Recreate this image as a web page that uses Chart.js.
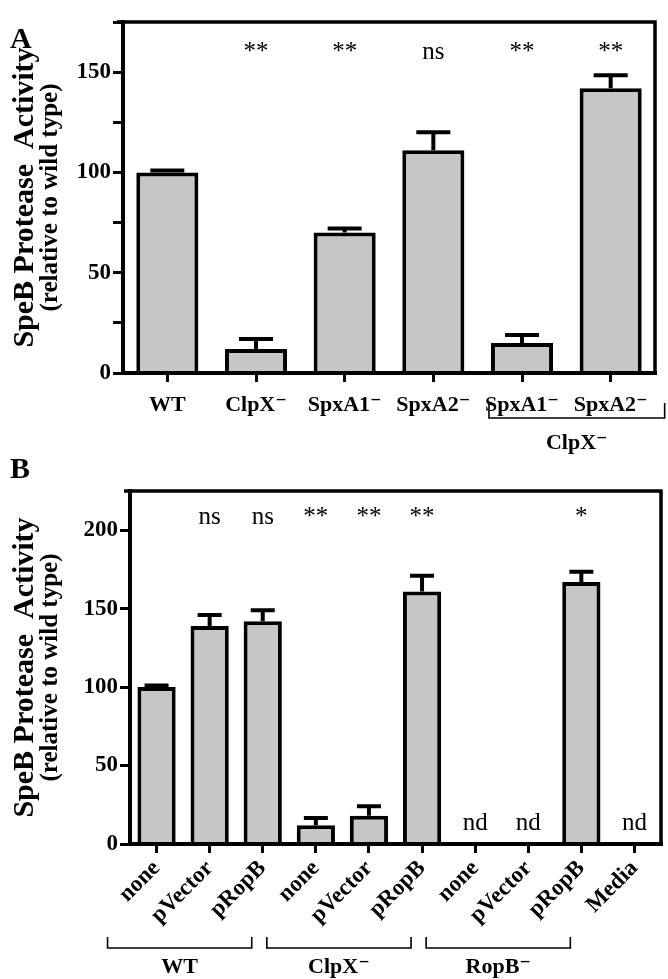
<!DOCTYPE html>
<html><head><meta charset="utf-8">
<script src="https://cdn.jsdelivr.net/npm/chart.js@4.4.0/dist/chart.umd.min.js"></script>
<style>
html,body{margin:0;padding:0;background:#fff;}
#wrap{position:relative;width:668px;height:979px;overflow:hidden;background:#fff;}
.box{position:absolute;left:0;}
</style></head><body>
<div id="wrap">
<div class="box" style="top:0;width:668px;height:460px"><canvas id="ca" width="668" height="460"></canvas></div>
<div class="box" style="top:455px;width:668px;height:524px"><canvas id="cb" width="668" height="524"></canvas></div>
</div>
<script>
// ---------- Panel A data ----------
const strainsA = ['WT', 'ClpX\u207B', 'SpxA1\u207B', 'SpxA2\u207B', 'SpxA1\u207B', 'SpxA2\u207B'];
const activityA = [100, 12, 70, 111, 15, 142];
const errorA = [1, 5, 2, 9, 4, 6.5];
const signifA = ['', '**', '**', 'ns', '**', '**'];
const groupsA = [{ label: 'ClpX\u207B', from: 4, to: 5 }];
const yTicksA = [0, 25, 50, 75, 100, 125, 150, 175];

// ---------- Panel B data ----------
const plasmidsB = ['none', 'pVector', 'pRopB', 'none', 'pVector', 'pRopB', 'none', 'pVector', 'pRopB', 'Media'];
const activityB = [100, 139, 142, 12, 18, 161, 1, 1, 167, 1];
const errorB = [1, 7, 7, 4.5, 6, 10, 0, 0, 6.5, 0];
const signifB = ['', 'ns', 'ns', '**', '**', '**', '', '', '*', ''];
const notDetectedB = ['', '', '', '', '', '', 'nd', 'nd', '', 'nd'];
const groupsB = [{ label: 'WT', from: 0, to: 2 }, { label: 'ClpX\u207B', from: 3, to: 5 }, { label: 'RopB\u207B', from: 6, to: 8 }];
const yTicksB = [0, 50, 100, 150, 200];

const yTitle1 = 'SpeB Protease  Activity';
const yTitle2 = '(relative to wild type)';

const SERIF = "'Liberation Serif', 'Times New Roman', 'DejaVu Serif', serif";
const FILL = '#c6c6c6';
const INK = '#000';

function makePlugin(cfg) {
  return {
    id: 'decor' + cfg.letter,
    afterDatasetsDraw(chart) {
      const ctx = chart.ctx;
      const a = chart.chartArea;
      const xs = chart.scales.x, ys = chart.scales.y;
      ctx.save();
      ctx.strokeStyle = INK; ctx.fillStyle = INK;
      // error bars
      ctx.lineWidth = 4;
      cfg.values.forEach((v, i) => {
        const e = cfg.errors[i];
        if (!e) return;
        const x = xs.getPixelForValue(i);
        const y0 = ys.getPixelForValue(v);
        const y1 = ys.getPixelForValue(v + e);
        ctx.beginPath();
        ctx.moveTo(x, y0); ctx.lineTo(x, y1);
        ctx.moveTo(x - cfg.capW / 2, y1); ctx.lineTo(x + cfg.capW / 2, y1);
        ctx.stroke();
      });
      // frame
      ctx.lineWidth = 3.5;
      ctx.beginPath();
      ctx.moveTo(a.left - 6, a.top); ctx.lineTo(a.right, a.top); ctx.lineTo(a.right, a.bottom);
      ctx.stroke();
      ctx.lineWidth = 4;
      ctx.beginPath();
      ctx.moveTo(a.left, a.top - 2); ctx.lineTo(a.left, a.bottom); ctx.lineTo(a.right + 2, a.bottom);
      ctx.stroke();
      // significance labels
      ctx.font = '25px ' + SERIF;
      ctx.textAlign = 'center'; ctx.textBaseline = 'middle';
      cfg.signif.forEach((s, i) => {
        if (!s) return;
        ctx.fillText(s, xs.getPixelForValue(i), ys.getPixelForValue(cfg.signifAt));
      });
      if (cfg.nd) cfg.nd.forEach((s, i) => {
        if (!s) return;
        ctx.fillText(s, xs.getPixelForValue(i), ys.getPixelForValue(cfg.ndAt));
      });
      // y title
      ctx.save();
      ctx.translate(cfg.t1x, (a.top + a.bottom) / 2 + cfg.tShift);
      ctx.rotate(-Math.PI / 2);
      ctx.font = 'bold 30px ' + SERIF;
      ctx.fillText(yTitle1, 0, 0);
      ctx.font = 'bold 25px ' + SERIF;
      ctx.fillText(yTitle2, 0, cfg.t2x - cfg.t1x);
      ctx.restore();
      // panel letter
      ctx.font = 'bold 30px ' + SERIF;
      ctx.textAlign = 'left'; ctx.textBaseline = 'alphabetic';
      ctx.fillText(cfg.letter, cfg.letterX, cfg.letterY);
      // group brackets
      ctx.lineWidth = 1.6;
      ctx.textAlign = 'center'; ctx.textBaseline = 'middle';
      ctx.font = 'bold 22px ' + SERIF;
      cfg.groups.forEach(g => {
        const x0 = xs.getPixelForValue(g.from) + cfg.brL;
        const x1 = xs.getPixelForValue(g.to) + cfg.brR;
        ctx.beginPath();
        ctx.moveTo(x0, cfg.brTop); ctx.lineTo(x0, cfg.brY); ctx.lineTo(x1, cfg.brY); ctx.lineTo(x1, cfg.brTop);
        ctx.stroke();
        ctx.fillText(g.label, (x0 + x1) / 2 + cfg.glShift, cfg.glY);
      });
      ctx.restore();
    }
  };
}

function baseOptions(o) {
  return {
    responsive: false, animation: false, devicePixelRatio: 1,
    layout: { padding: { top: o.top, right: o.right, left: 0, bottom: 0 } },
    plugins: { legend: { display: false }, tooltip: { enabled: false } },
    scales: {
      x: {
        offset: true,
        grid: { offset: false, drawOnChartArea: false, drawTicks: true, tickLength: 9, tickWidth: 3, tickColor: INK },
        border: { display: true, width: 4, color: INK },
        ticks: {
          color: INK, font: { family: SERIF, weight: 'bold', size: o.xFont }, autoSkip: false,
          maxRotation: o.rot, minRotation: o.rot, padding: o.xPad
        },
        afterFit: s => { s.height = o.xH; }
      },
      y: {
        min: 0, max: o.ymax,
        afterBuildTicks: s => { s.ticks = o.yTicks.map(v => ({ value: v })); },
        grid: { drawOnChartArea: false, drawTicks: true, tickLength: 10, tickWidth: 3, tickColor: INK },
        border: { display: true, width: 4, color: INK },
        ticks: {
          color: INK, font: { family: SERIF, weight: 'bold', size: 23 }, padding: 2,
          callback: v => (v % 50 === 0 ? String(v) : '')
        },
        afterFit: s => { s.width = o.yW; }
      }
    }
  };
}

new Chart(document.getElementById('ca'), {
  type: 'bar',
  data: {
    labels: strainsA,
    datasets: [{ data: activityA, backgroundColor: FILL, borderColor: INK, borderWidth: 4, categoryPercentage: 1, barPercentage: 0.7 }]
  },
  options: baseOptions({ top: 22, right: 13, xFont: 22, rot: 0, xPad: 10, xH: 87, ymax: 175, yTicks: yTicksA, yW: 123 }),
  plugins: [makePlugin({
    letter: 'A', letterX: 10, letterY: 48, values: activityA, errors: errorA, capW: 34,
    signif: signifA, signifAt: 160, t1x: 25, t2x: 51, tShift: 0,
    groups: groupsA, brL: -33, brR: 54, brTop: 403, brY: 418, glY: 443, glShift: 0
  })]
});

new Chart(document.getElementById('cb'), {
  type: 'bar',
  data: {
    labels: plasmidsB,
    datasets: [{ data: activityB, backgroundColor: FILL, borderColor: INK, borderWidth: 4, categoryPercentage: 1, barPercentage: 0.72 }]
  },
  options: baseOptions({ top: 36, right: 7, xFont: 23, rot: 45, xPad: 2, xH: 135, ymax: 225, yTicks: yTicksB, yW: 130 }),
  plugins: [makePlugin({
    letter: 'B', letterX: 10, letterY: 23, values: activityB, errors: errorB, capW: 24,
    signif: signifB, signifAt: 208, nd: notDetectedB, ndAt: 13, t1x: 25, t2x: 51, tShift: 0,
    groups: groupsB, brL: -49, brR: -11, brTop: 482, brY: 493, glY: 512, glShift: 0
  })]
});
</script>
</body></html>
